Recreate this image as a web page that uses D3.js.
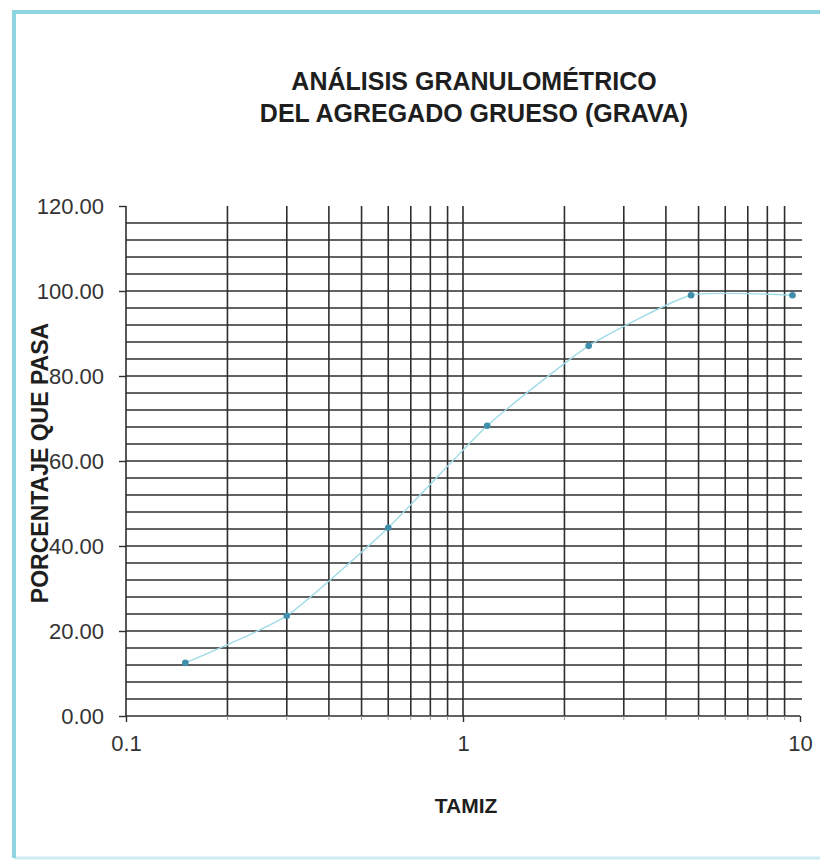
<!DOCTYPE html>
<html>
<head>
<meta charset="utf-8">
<script src="https://cdn.jsdelivr.net/npm/d3@7"></script>
<style>
  html, body { margin: 0; padding: 0; background: #ffffff; }
  svg { display: block; font-family: "Liberation Sans", Arial, sans-serif; }
</style>
</head>
<body>
<svg id="chart" width="820" height="862"></svg>
<script>
// Sieve opening (mm) and cumulative percentage passing
const sieveSizes = [0.15, 0.3, 0.6, 1.18, 2.36, 4.75, 9.5];
const percentPassing = [12.5, 23.6, 44.3, 68.3, 87.1, 99.0, 99.0];

// Axis ticks and grid
const xMajorTicks = [0.1, 1, 10];
const xLabels = ["0.1", "1", "10"];
const xMinorGrid = [0.2, 0.3, 0.4, 0.5, 0.6, 0.7, 0.8, 0.9, 1, 2, 3, 4, 5, 6, 7, 8, 9];
const yMajorTicks = [0, 20, 40, 60, 80, 100, 120];
const yGrid = d3.range(4, 120, 4);

const titleLines = ["ANÁLISIS GRANULOMÉTRICO", "DEL AGREGADO GRUESO (GRAVA)"];
const xTitle = "TAMIZ";
const yTitle = "PORCENTAJE QUE PASA";

const svg = d3.select("#chart");
const W = 820, H = 862;
const plot = { left: 126, right: 800, top: 206, bottom: 716 };

// Frame around the sheet
const frame = svg.append("g")
  .attr("stroke", "#8ed5e0").attr("fill", "none");
frame.append("line").attr("x1", 14).attr("x2", W).attr("y1", 12).attr("y2", 12).attr("stroke-width", 4);
frame.append("line").attr("x1", 14).attr("x2", 14).attr("y1", 10).attr("y2", 858).attr("stroke-width", 4);
frame.append("line").attr("x1", 14).attr("x2", W).attr("y1", 858).attr("y2", 858)
  .attr("stroke-width", 3).attr("stroke-opacity", 0.45);

const x = d3.scaleLog().domain([0.1, 10]).range([plot.left, plot.right]);
const y = d3.scaleLinear().domain([0, 120]).range([plot.bottom, plot.top]);

// Grid
const grid = svg.append("g").attr("stroke", "#2e2e2e").attr("stroke-width", 1.6);
grid.selectAll("line.h").data(yGrid).join("line")
  .attr("class", "h")
  .attr("x1", plot.left).attr("x2", plot.right + 2)
  .attr("y1", d => y(d)).attr("y2", d => y(d));
grid.selectAll("line.v").data(xMinorGrid).join("line")
  .attr("class", "v")
  .attr("x1", d => x(d)).attr("x2", d => x(d))
  .attr("y1", plot.top).attr("y2", plot.bottom);

// Y axis
const yAxis = svg.append("g")
  .attr("transform", `translate(${plot.left},0)`)
  .call(d3.axisLeft(y).tickValues(yMajorTicks).tickFormat(d3.format(".2f"))
    .tickSize(7).tickPadding(15));
yAxis.select(".domain").attr("stroke", "#2e2e2e").attr("stroke-width", 1.6)
  .attr("d", `M0,${plot.top}V${plot.bottom}`);
yAxis.selectAll(".tick line").attr("stroke", "#2e2e2e").attr("stroke-width", 1.4);
yAxis.selectAll(".tick text").attr("fill", "#333").style("font-size", "22px");

// X axis
const xAxis = svg.append("g")
  .attr("transform", `translate(0,${plot.bottom})`)
  .call(d3.axisBottom(x).tickValues(xMajorTicks)
    .tickFormat((d, i) => xLabels[i]).tickSize(6).tickPadding(13));
xAxis.select(".domain").attr("stroke", "#2e2e2e").attr("stroke-width", 1.6)
  .attr("d", `M${plot.left},0H${plot.right}`);
xAxis.selectAll(".tick line").attr("stroke", "#2e2e2e").attr("stroke-width", 1.4);
xAxis.selectAll(".tick text").attr("fill", "#333").style("font-size", "22px");

// Minor ticks below the x axis
svg.append("g").attr("stroke", "#9a9a9a").attr("stroke-width", 1)
  .selectAll("line").data(xMinorGrid.filter(d => d !== 1)).join("line")
  .attr("x1", d => x(d)).attr("x2", d => x(d))
  .attr("y1", plot.bottom).attr("y2", plot.bottom + 4);

// Grading curve (smoothed through the sieve points)
const pts = sieveSizes.map((s, i) => [s, percentPassing[i]]);
const line = d3.line().x(d => x(d[0])).y(d => y(d[1])).curve(d3.curveCardinal.tension(0.5));
svg.append("path").datum(pts)
  .attr("d", line)
  .attr("fill", "none")
  .attr("stroke", "#9fdbe8")
  .attr("stroke-width", 1.4);
svg.append("g").selectAll("circle").data(pts).join("circle")
  .attr("cx", d => x(d[0])).attr("cy", d => y(d[1]))
  .attr("r", 3.3).attr("fill", "#3f8eab");

// Titles
svg.append("g").selectAll("text").data(titleLines).join("text")
  .attr("x", 474).attr("y", (d, i) => 90 + i * 32)
  .attr("text-anchor", "middle")
  .attr("font-weight", "bold").attr("font-size", 25)
  .attr("fill", "#1e1e1e")
  .text(d => d);

svg.append("text")
  .attr("x", 466).attr("y", 813)
  .attr("text-anchor", "middle")
  .attr("font-weight", "bold").attr("font-size", 21)
  .attr("fill", "#1e1e1e")
  .text(xTitle);

svg.append("text")
  .attr("transform", "translate(48,463) rotate(-90)")
  .attr("text-anchor", "middle")
  .attr("font-weight", "bold").attr("font-size", 23)
  .attr("fill", "#1e1e1e")
  .text(yTitle);
</script>
</body>
</html>
